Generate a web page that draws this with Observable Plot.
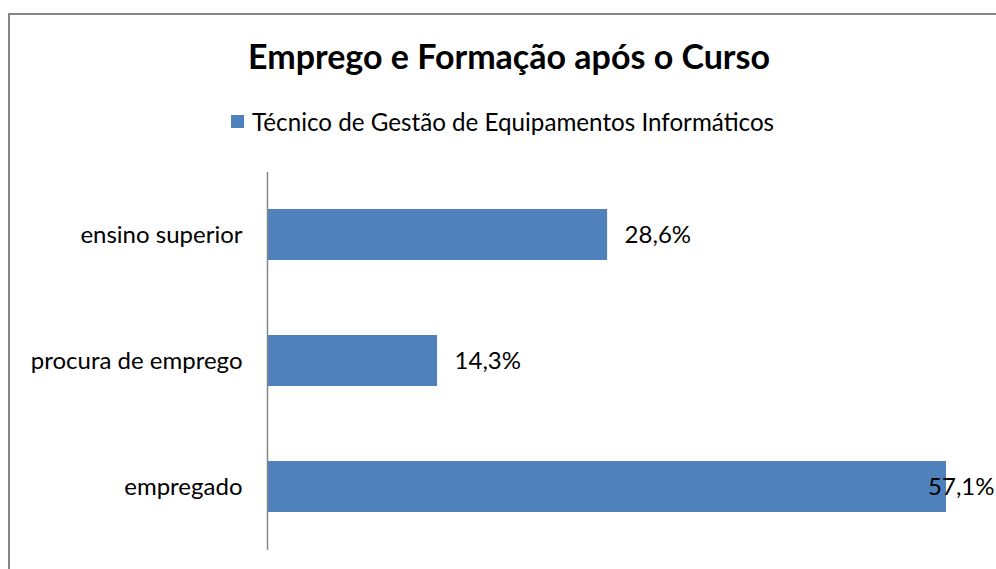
<!DOCTYPE html>
<html><head><meta charset="utf-8">
<script src="https://cdn.jsdelivr.net/npm/d3@7"></script>
<script src="https://cdn.jsdelivr.net/npm/@observablehq/plot@0.6"></script>
<style>
html,body{margin:0;padding:0;background:#fff;overflow:hidden;width:996px;height:569px;font-family:Lato,"Open Sans",sans-serif;}
#frame{position:absolute;left:8px;top:13px;width:1100px;height:700px;border-left:2px solid #868686;border-top:2px solid #868686;}
#title{position:absolute;left:0;width:1018px;top:36px;line-height:40px;text-align:center;font-weight:bold;font-size:34px;color:#000;}
#legend{position:absolute;left:231px;top:106px;height:30px;font-size:24.2px;color:#000;display:flex;align-items:center;}
#legend span.sw{display:inline-block;width:13px;height:13px;background:#4F81BD;margin-right:8px;}
#chart{position:absolute;left:0;top:150px;}
</style></head>
<body>
<div id="frame"></div>
<div id="title">Emprego e Formação após o Curso</div>
<div id="legend"><span class="sw"></span><span id="legtext"></span></div>
<div id="chart"></div>
<script>
const series = "Técnico de Gestão de Equipamentos Informáticos";
const categories = ["ensino superior", "procura de emprego", "empregado"];
const values = [28.6, 14.3, 57.1];

document.getElementById("legtext").textContent = series;
const data = categories.map((c, i) => ({category: c, value: values[i]}));
const fmt = v => v.toFixed(1).replace(".", ",") + "%";

const plot = Plot.plot({
  width: 996,
  height: 419,
  marginLeft: 267,
  marginRight: 50,
  marginTop: 22,
  marginBottom: 19,
  style: {fontFamily: "Lato, 'Open Sans', sans-serif", fontSize: "24px", color: "#000", background: "transparent"},
  x: {domain: [0, 57.1], axis: null},
  y: {domain: categories, paddingInner: 0.595, paddingOuter: 0.2975, label: null},
  marks: [
    Plot.barX(data, {x: "value", y: "category", fill: "#4F81BD"}),
    Plot.ruleX([0], {stroke: "#868686", strokeWidth: 1.5}),
    Plot.axisY({tickSize: 0, tickPadding: 25, label: null, fontSize: 24}),
    Plot.text(data.filter(d => d.value < 50), {x: "value", y: "category", text: d => fmt(d.value), textAnchor: "start", dx: 17, fontSize: 24, fill: "#000"}),
    Plot.text(data.filter(d => d.value >= 50), {x: "value", y: "category", text: d => fmt(d.value), textAnchor: "end", dx: 48, fontSize: 24, fill: "#000"})
  ]
});
document.getElementById("chart").appendChild(plot);
</script>
</body></html>
